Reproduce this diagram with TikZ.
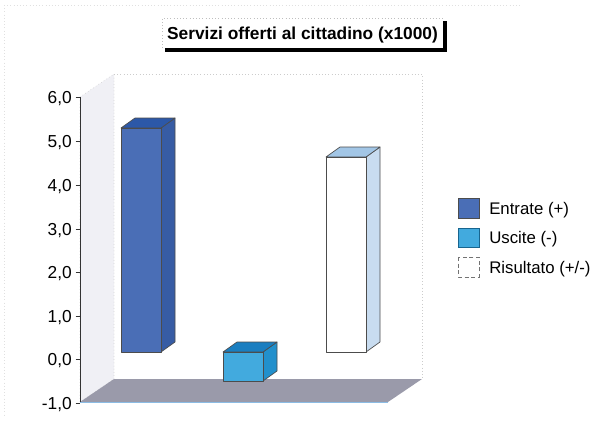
\documentclass[tikz,border=0pt]{standalone}
\usepackage{fontspec}
\setmainfont{Liberation Sans}
\definecolor{wallgray}{HTML}{F0F0F5}
\definecolor{floorgray}{HTML}{9A9AAA}
\definecolor{floorline}{HTML}{8CBCE4}
\definecolor{entF}{HTML}{4A6EB6}
\definecolor{entS}{HTML}{375CA4}
\definecolor{entT}{HTML}{2C58A8}
\definecolor{uscF}{HTML}{42AADE}
\definecolor{uscS}{HTML}{2290CC}
\definecolor{uscT}{HTML}{1A7EC0}
\definecolor{risF}{HTML}{FFFFFF}
\definecolor{risS}{HTML}{C8DCF0}
\definecolor{risT}{HTML}{A2C6E6}
\newcommand\cubebar[7]{%
  % #1 x0, #2 x1, #3 ytop, #4 ybot, #5 front, #6 side, #7 top
  \filldraw[fill=#6, barline] (#2,#4) -- ({#2+14},{#4-10}) -- ({#2+14},{#3-10}) -- (#2,#3) -- cycle;
  \filldraw[fill=#7, barline] (#1,#3) -- ({#1+14},{#3-10}) -- ({#2+14},{#3-10}) -- (#2,#3) -- cycle;
  \filldraw[fill=#5, barline] (#1,#4) rectangle (#2,#3);
}
\begin{document}
\begin{tikzpicture}[x=0.75pt,y=-0.75pt,
  font=\fontsize{13}{15}\selectfont,
  barline/.style={draw=black!70, line width=0.5pt, line join=round},
  ticklbl/.style={anchor=base east, inner sep=0pt},
  leglbl/.style={anchor=base west, inner sep=0pt, font=\fontsize{12.6}{15}\selectfont},
  legbox/.style={line width=0.6pt}]
\useasboundingbox (0,0) rectangle (601,422);
\fill[white] (0,0) rectangle (601,422);
% faint outer frame
\draw[black!12, dotted] (4,5) -- (520,5);
\draw[black!12, dotted] (4,5) -- (4,417);
% title
\fill[black] (165,21) rectangle (447,52);
\fill[white] (162,18) rectangle (443,48);
\draw[black!25, dotted] (162,48) -- (162,18) -- (443,18);
\node[anchor=base, inner sep=0pt, font=\fontsize{13}{15}\selectfont\bfseries] (title) at (302.5,39.5) {Servizi offerti al cittadino (x1000)};
% side wall
\filldraw[fill=wallgray, draw=black!22, dotted] (80,97) -- (114,74) -- (114,379) -- (80,402) -- cycle;
% back wall border
\draw[black!20, dotted] (114,74) -- (422,74) -- (422,379);
% floor
\fill[floorgray] (80,402) -- (114,379) -- (422,379) -- (388,402) -- cycle;
\draw[floorline, line width=1pt] (80,402.8) -- (388,402.8);
% axis
\draw[black!80, line width=0.7pt] (80,97) -- (80,402);
\foreach \v/\y in {{6,0}/97, {5,0}/141, {4,0}/185, {3,0}/229, {2,0}/272, {1,0}/316, {0,0}/359, {-1,0}/403}{
  \draw[black!80, line width=0.6pt] (75.5,\y) -- (80,\y);
  \node[ticklbl] at (72,{\y+6}) {\v};
}
% bars
\cubebar{121}{161}{128}{352}{entF}{entS}{entT}
\cubebar{223}{263}{352}{381}{uscF}{uscS}{uscT}
\cubebar{326}{366}{157}{352}{risF}{risS}{risT}
% legend
\filldraw[legbox, fill=entF, draw=black!70] (458,198) rectangle (479,218);
\node[leglbl] (l1) at (489,214) {Entrate (+)};
\filldraw[legbox, fill=uscF, draw=uscS!70!black] (458,228) rectangle (479,247);
\node[leglbl] (l2) at (489,243.5) {Uscite (-)};
\filldraw[legbox, fill=white, draw=black!55, densely dashed] (458,257) rectangle (479,277);
\node[leglbl] (l3) at (489,273) {Risultato (+/-)};
\end{tikzpicture}
\end{document}
